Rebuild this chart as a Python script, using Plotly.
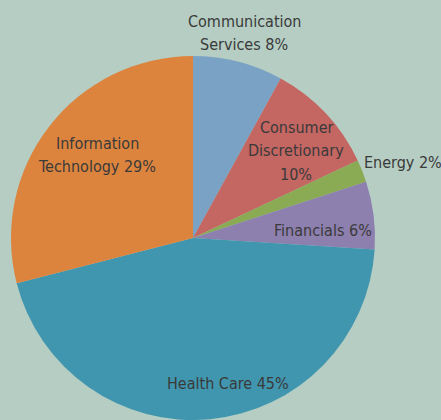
import plotly.graph_objects as go

sectors = ["Communication Services", "Consumer Discretionary", "Energy",
           "Financials", "Health Care", "Information Technology"]
weights = [8, 10, 2, 6, 45, 29]
label_texts = ["Communication<br>Services 8%", "Consumer<br>Discretionary<br>10%",
               "Energy 2%", "Financials 6%", "Health Care 45%",
               "Information<br>Technology 29%"]
colors = ["#7aa2c4", "#c46662", "#8aaa54", "#8d7fae", "#4096ae", "#dc843e"]

W, H = 441, 420
LINE = 23.5
# first-line centre positions in pixels (x from left, y from top)
label_pos = [(244, 21), (296, 127), (403, 163), (323, 230), (228, 383), (97, 143)]

fig = go.Figure(go.Pie(
    labels=sectors, values=weights, sort=False, direction="clockwise", rotation=0,
    marker=dict(colors=colors, line=dict(width=0)),
    textinfo="none", hoverinfo="label+percent", showlegend=False,
    domain=dict(x=[11 / W, 375 / W], y=[0, 364 / H]),
))

for txt, (px, py) in zip(label_texts, label_pos):
    for i, line in enumerate(txt.split("<br>")):
        fig.add_annotation(x=px / W, y=1 - (py + i * LINE) / H, xref="paper", yref="paper",
                           text=line, showarrow=False, xanchor="center", yanchor="middle",
                           font=dict(family="DejaVu Sans Condensed, Roboto, sans-serif",
                                     size=16, color="#3a3a3a"))

fig.update_layout(width=W, height=H, margin=dict(l=0, r=0, t=0, b=0),
                  paper_bgcolor="#b5cdc2", plot_bgcolor="#b5cdc2")
fig.write_html("out.html", config={"displayModeBar": False},
               post_script="document.body.style.margin='0';document.body.style.background='#b5cdc2';")
